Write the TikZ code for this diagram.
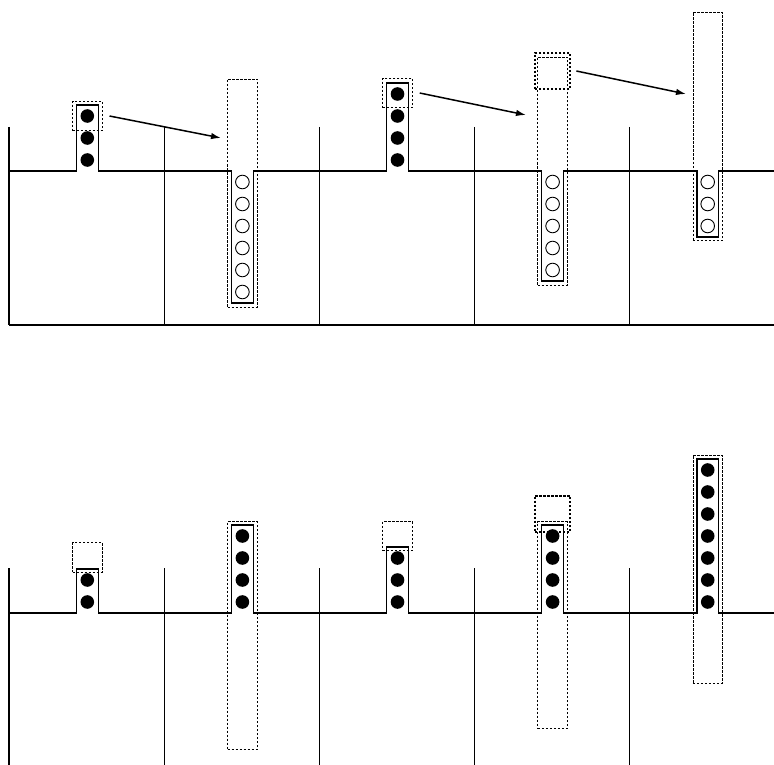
\documentclass[tikz,border=0pt]{standalone}
\usetikzlibrary{arrows.meta}
\begin{document}
\begin{tikzpicture}[x=1pt, y=-1pt, line width=1.2pt,
  dbox/.style={draw, line width=0.9pt, dash pattern=on 2.5pt off 1.5pt,
    inner sep=0pt, minimum width=29.5pt},
  bbox/.style={dbox, line width=2pt, minimum width=35.5pt},
  arr/.style={-{Latex[length=10pt, width=6.5pt]}, line width=1.5pt}]

  \useasboundingbox (0,0) rectangle (774,765);

  \newcommand\W{155.1};
  \newcommand\R{6.8};

  %% upper row: cells, ground
  \draw (9,325) -- (774,325);
  \foreach \k in {0,...,4}
    \draw (9+\k*\W,127) -- (9+\k*\W,325);

  %% upper row: baseline with the five tubes
  \draw (9,171) -- (76.5,171) -- ++(0,-66) -- ++(21.6,0) -- ++(0,66)
    -- (231.6,171) -- ++(0,132) -- ++(21.6,0) -- ++(0,-132)
    -- (386.7,171) -- ++(0,-88) -- ++(21.6,0) -- ++(0,88)
    -- (541.8,171) -- ++(0,110) -- ++(21.6,0) -- ++(0,-110)
    -- (696.9,171) -- ++(0,66) -- ++(21.6,0) -- ++(0,-66) -- (774,171);

  \foreach \k in {0,1,2} \fill (87.3,160-22*\k) circle (\R);
  \foreach \k in {0,...,5} \draw[line width=0.9pt] (242.4,182+22*\k) circle (\R);
  \foreach \k in {0,...,3} \fill (397.5,160-22*\k) circle (\R);
  \foreach \k in {0,...,4} \draw[line width=0.9pt] (552.6,182+22*\k) circle (\R);
  \foreach \k in {0,1,2} \draw[line width=0.9pt] (707.7,182+22*\k) circle (\R);

  \node[dbox, minimum height=29.5pt] (t1sq) at (87.3,116) {};
  \node[dbox, minimum height=228pt] (t2box) at (242.4,193) {};
  \node[dbox, minimum height=29.5pt] (t3sq) at (397.5,93) {};
  \node[dbox, minimum height=228pt] (t4box) at (552.6,171) {};
  \node[bbox, minimum height=35.5pt] (t4sq) at (552.6,71) {};
  \node[dbox, minimum height=228pt] (t5box) at (707.7,126.5) {};

  \coordinate (t2in) at (221,138);
  \coordinate (t4in) at (526,115);
  \coordinate (t5in) at (686,94);

  \draw[arr] ([xshift=7pt]t1sq.east) -- (t2in); %% 1->2
  \draw[arr] ([xshift=7pt]t3sq.east) -- (t4in); %% 3->4
  \draw[arr] ([xshift=5pt]t4sq.east) -- (t5in); %% 4->5

  %% lower row: cells
  \foreach \k in {0,...,4}
    \draw (9+\k*\W,568) -- (9+\k*\W,765);

  %% lower row: baseline with the five tubes
  \draw (9,613) -- (76.5,613) -- ++(0,-44) -- ++(21.6,0) -- ++(0,44)
    -- (231.6,613) -- ++(0,-88) -- ++(21.6,0) -- ++(0,88)
    -- (386.7,613) -- ++(0,-66) -- ++(21.6,0) -- ++(0,66)
    -- (541.8,613) -- ++(0,-88) -- ++(21.6,0) -- ++(0,88)
    -- (696.9,613) -- ++(0,-154) -- ++(21.6,0) -- ++(0,154) -- (774,613);

  \foreach \k in {0,1} \fill (87.3,602-22*\k) circle (\R);
  \foreach \k in {0,...,3} \fill (242.4,602-22*\k) circle (\R);
  \foreach \k in {0,1,2} \fill (397.5,602-22*\k) circle (\R);
  \foreach \k in {0,...,3} \fill (552.6,602-22*\k) circle (\R);
  \foreach \k in {0,...,6} \fill (707.7,602-22*\k) circle (\R);

  \node[dbox, minimum height=29.5pt] (b1sq) at (87.3,557.5) {};
  \node[dbox, minimum height=228pt] (b2box) at (242.4,635.5) {};
  \node[dbox, minimum height=29pt] (b3sq) at (397.5,536) {};
  \node[dbox, minimum height=207pt] (b4box) at (552.6,625) {};
  \node[bbox, minimum height=36pt] (b4sq) at (552.6,513.5) {};
  \node[dbox, minimum height=228pt] (b5box) at (707.7,569) {};
\end{tikzpicture}
\end{document}
